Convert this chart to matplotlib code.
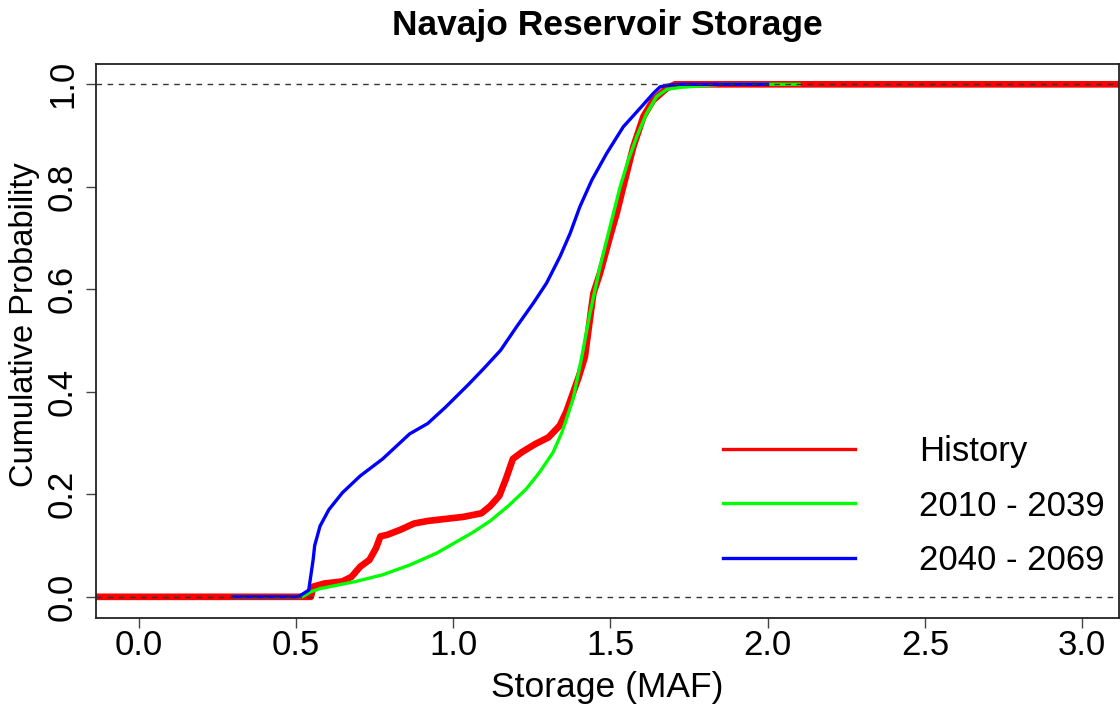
import matplotlib
matplotlib.use("Agg")
import matplotlib.pyplot as plt
from matplotlib.lines import Line2D

plt.rcParams['font.family'] = ['Liberation Sans', 'DejaVu Sans']

# ECDF traces (storage in MAF, cumulative probability)
hist_x = [-0.20, 0.548, 0.556, 0.591, 0.648, 0.677, 0.705, 0.734, 0.755, 0.769,
          0.791, 0.833, 0.876, 0.919, 0.976, 1.033, 1.090, 1.118, 1.147, 1.168,
          1.190, 1.218, 1.261, 1.303, 1.339, 1.360, 1.375, 1.400, 1.419, 1.446,
          1.467, 1.499, 1.520, 1.541, 1.573, 1.605, 1.636, 1.679, 1.705, 3.20]
hist_y = [0.0, 0.0, 0.020, 0.026, 0.030, 0.039, 0.059, 0.072, 0.095, 0.118,
          0.121, 0.131, 0.143, 0.148, 0.152, 0.156, 0.163, 0.177, 0.197, 0.230,
          0.269, 0.282, 0.298, 0.311, 0.334, 0.361, 0.387, 0.430, 0.468, 0.592,
          0.631, 0.703, 0.748, 0.800, 0.878, 0.937, 0.969, 0.992, 1.0, 1.0]

early_x = [0.30, 0.520, 0.548, 0.577, 0.634, 0.691, 0.776, 0.862, 0.947, 1.004,
           1.061, 1.118, 1.175, 1.232, 1.275, 1.318, 1.346, 1.368, 1.382, 1.409,
           1.435, 1.467, 1.499, 1.531, 1.557, 1.584, 1.615, 1.647, 1.679, 1.721,
           1.785, 1.850, 2.10]
early_y = [0.0, 0.0, 0.010, 0.016, 0.023, 0.030, 0.043, 0.062, 0.085, 0.105,
           0.125, 0.148, 0.177, 0.210, 0.243, 0.282, 0.321, 0.361, 0.387, 0.468,
           0.553, 0.644, 0.722, 0.800, 0.852, 0.898, 0.943, 0.976, 0.990, 0.994,
           0.997, 1.0, 1.0]

late_x = [0.30, 0.506, 0.513, 0.541, 0.555, 0.560, 0.577, 0.605, 0.648, 0.705,
          0.776, 0.862, 0.919, 0.976, 1.004, 1.050, 1.100, 1.151, 1.202, 1.255,
          1.297, 1.340, 1.372, 1.403, 1.441, 1.488, 1.541, 1.594, 1.636, 1.658,
          1.679, 1.720, 2.00]
late_y = [0.0, 0.0, 0.002, 0.013, 0.072, 0.100, 0.138, 0.170, 0.203, 0.236,
          0.269, 0.318, 0.338, 0.370, 0.387, 0.415, 0.447, 0.481, 0.527, 0.573,
          0.612, 0.664, 0.709, 0.761, 0.813, 0.865, 0.917, 0.953, 0.982, 0.995,
          0.998, 1.0, 1.0]

series_labels = ["History", "2010 - 2039", "2040 - 2069"]
series_colors = ["#ff0000", "#00ff00", "#0000ff"]
x_ticks = [0.0, 0.5, 1.0, 1.5, 2.0, 2.5, 3.0]
y_ticks = [0.0, 0.2, 0.4, 0.6, 0.8, 1.0]

fig = plt.figure(figsize=(11.2, 7.1), dpi=100)
ax = fig.add_axes([0.0855, 0.1291, 0.9133, 0.7803])

ax.plot(hist_x, hist_y, color=series_colors[0], lw=4.8, solid_capstyle="butt")
ax.plot(early_x, early_y, color=series_colors[1], lw=2.4)
ax.plot(late_x, late_y, color=series_colors[2], lw=2.4)

# reference lines at 0 and 1
for h in (0.0, 1.0):
    ax.axhline(h, color="#333333", lw=1.0, ls=(0, (4, 4)), zorder=5)

ax.set_xlim(-0.136, 3.116)
ax.set_ylim(-0.042, 1.039)
ax.set_xticks(x_ticks)
ax.set_xticklabels([f"{v:.1f}" for v in x_ticks])
ax.set_yticks(y_ticks)
ax.set_yticklabels([f"{v:.1f}" for v in y_ticks], va="center")
ax.tick_params(axis="both", length=7.2, width=1.0, color="#444444", labelsize=25)
ax.tick_params(axis="x", pad=0.5)
ax.tick_params(axis="y", pad=4.8, labelrotation=90)
for s in ax.spines.values():
    s.set_linewidth(1.3)
    s.set_color("#222222")

ax.set_xlabel("Storage (MAF)", fontsize=25.5, va="baseline")
ax.xaxis.set_label_coords(0.5, -0.142)
ax.set_ylabel("Cumulative Probability", fontsize=23.5, va="center")
ax.yaxis.set_label_coords(-0.0701, 0.53)

fig.text(0.542, 0.9507, "Navajo Reservoir Storage", fontsize=25.5, fontweight="bold",
         ha="center", va="baseline")

# legend keys are all drawn thin, like R's legend(lwd=2)
handles = [Line2D([], [], color=c, lw=2.4) for c in series_colors]
ax.legend(handles, series_labels, loc="center left", bbox_to_anchor=(0.613, 0.2026),
          frameon=False, fontsize=25, handlelength=3.8, handletextpad=1.84,
          labelspacing=0.63, borderpad=0, borderaxespad=0)

fig.savefig("out.png", dpi=100)
